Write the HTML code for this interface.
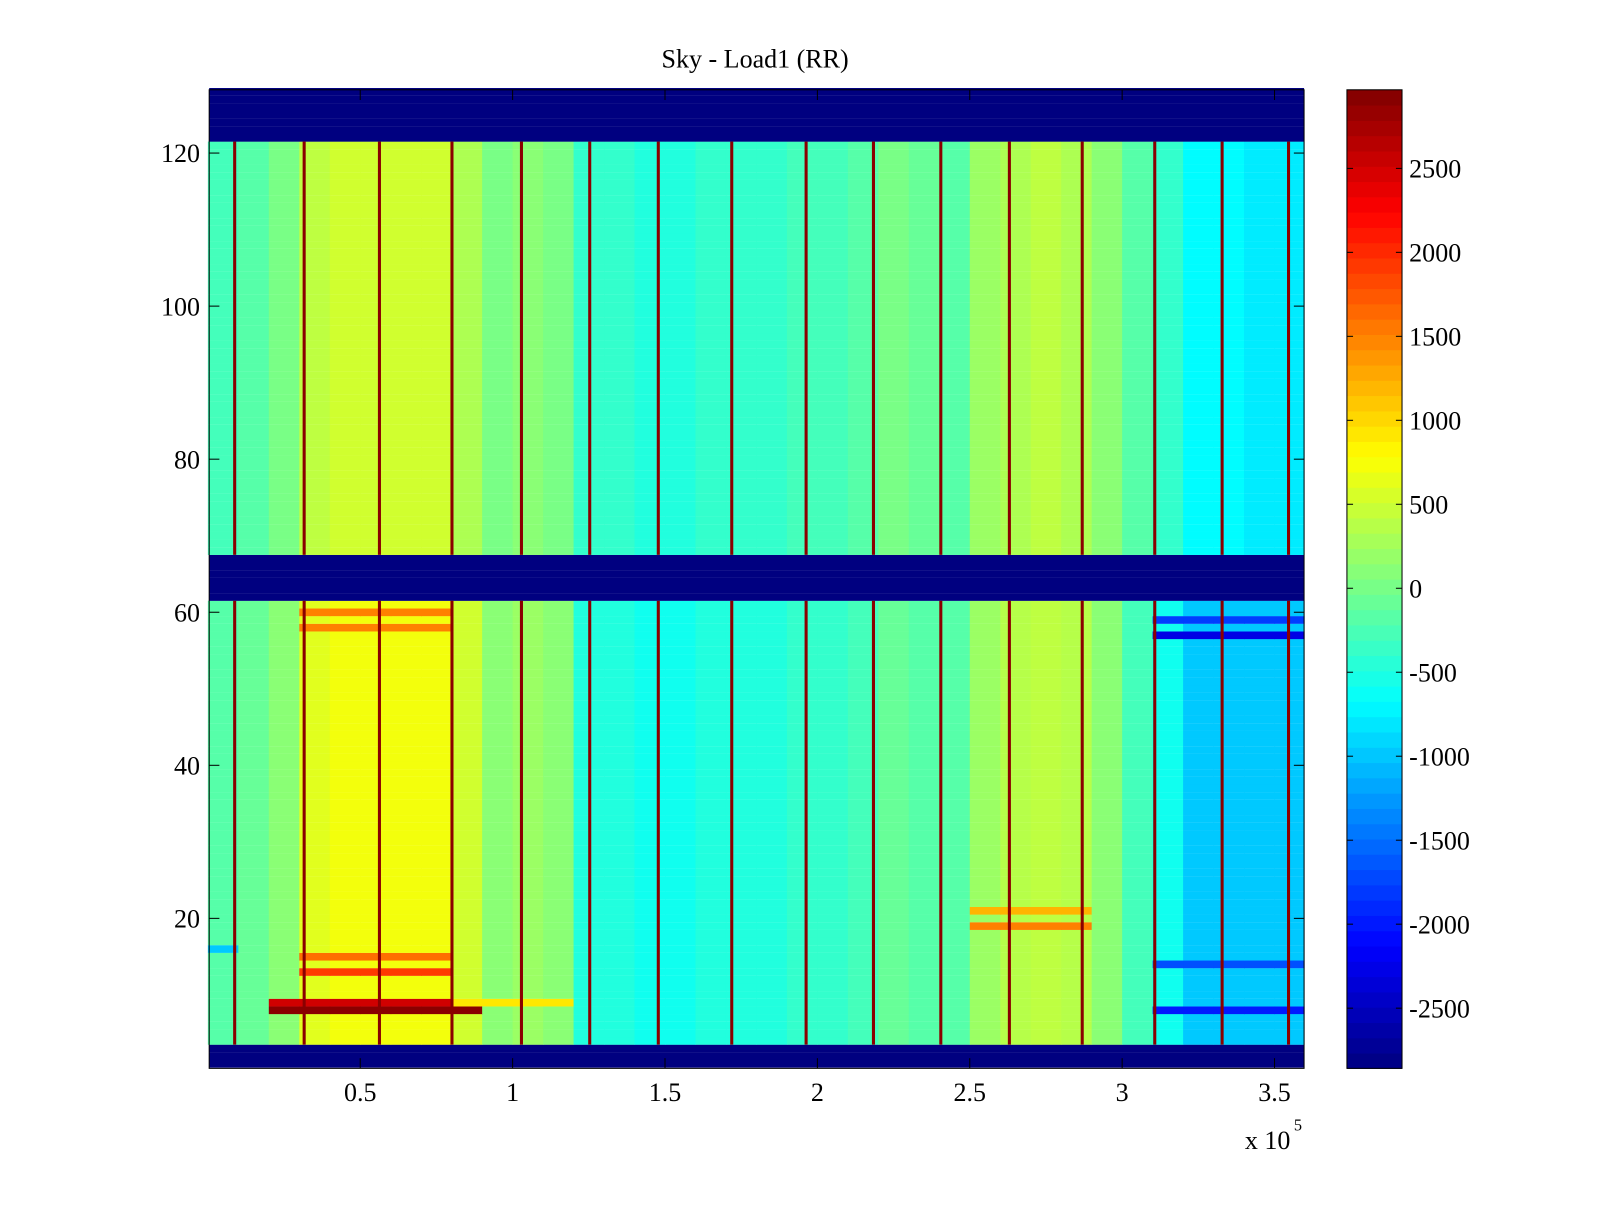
<!DOCTYPE html>
<html><head><meta charset="utf-8"><style>
body{margin:0;background:#fff}
svg text{font-family:"Liberation Serif",serif;font-size:25.5px;fill:#000}
</style></head><body>
<svg id="chart" width="1600" height="1200" xmlns="http://www.w3.org/2000/svg">
<rect width="1600" height="1200" fill="#fff"/>
<g transform="scale(1.0204)">
<text x="740" y="66" text-anchor="middle">Sky - Load1 (RR)</text>
<g id="cells"></g>
<g id="axes"></g>
<g id="cbar"></g>
</g>
</svg>
<script>
// column means per 1e4 bin (x from 0 to 3.6e5)
const colMeanUpper=[-300,-200,0,400,500,500,500,500,300,0,100,0,-400,-400,-500,-500,-400,-400,-400,-300,-300,-200,0,-100,-200,200,300,400,300,100,-200,-400,-700,-700,-800,-800];
const colMeanLower=[-200,-100,100,600,700,700,700,700,500,100,200,100,-500,-500,-600,-600,-500,-500,-500,-400,-400,-300,-100,-200,-200,200,350,400,350,100,-300,-600,-1000,-1000,-1000,-1000];
const maskRows=[[1,3],[62,67],[122,128]];
const stripeRows=[8,9,9,13,15,16,19,21,58,60,57,59,8,14];
const stripeX0=[0.25,0.2,0.85,0.3,0.3,0,2.55,2.55,0.3,0.3,3.15,3.15,3.1,3.15];
const stripeX1=[0.85,0.85,1.15,0.8,0.8,0.1,2.85,2.85,0.8,0.8,3.6,3.6,3.6,3.6];
const stripeVal=[2900,2500,900,1900,1600,-1000,1500,1200,1500,1500,-2300,-1800,-2000,-1700];
const lineX=[0.088,0.316,0.563,0.801,1.029,1.253,1.478,1.719,1.963,2.184,2.405,2.63,2.869,3.107,3.328,3.546];
const lineVal=2900;
const xTicks=[0.5,1,1.5,2,2.5,3,3.5];
const yTicks=[20,40,60,80,100,120];
const cTicks=[2500,2000,1500,1000,500,0,-500,-1000,-1500,-2000,-2500];
const cMin=-2880,cMax=2960;
const NS='http://www.w3.org/2000/svg';
const L=205,R=1278,T=88,B=1047;
const X=v=>203.7+v*298.67;
const Yc=r=>1050-r*7.5;
const CY=v=>576.5-v*0.1646;
function jet(v){let t=(v-cMin)/(cMax-cMin);t=Math.max(0,Math.min(1,t));
 const f=x=>Math.round(255*Math.max(0,Math.min(1,1.5-Math.abs(4*t-x))));
 return `rgb(${f(3)},${f(2)},${f(1)})`;}
function mk(tag,a,p){const e=document.createElementNS(NS,tag);for(const k in a)e.setAttribute(k,a[k]);p.appendChild(e);return e;}
const cells=document.getElementById('cells');
function masked(r){return maskRows.some(m=>r>=m[0]&&r<=m[1]);}
for(let r=1;r<=128;r++){
 const y0=Yc(r)-3.75;
 if(masked(r)){const e=mk('rect',{x:L,y:y0,width:R-L,height:7.6,fill:jet(cMin)},cells);
  continue;}
 const means=r<64?colMeanLower:colMeanUpper;
 for(let c=0;c<means.length;c++){
  let v=means[c];const xc=(c+0.5)/10;
  for(let s=0;s<stripeRows.length;s++){if(stripeRows[s]===r&&xc>=stripeX0[s]&&xc<=stripeX1[s])v=stripeVal[s];}
  const x0=X(c/10),x1=Math.min(R,X((c+1)/10));
  const e=mk('rect',{x:x0,y:y0,width:x1-x0+0.5,height:7.6,fill:jet(v)},cells);
  
 }
}
for(const lx of lineX){
 for(const seg of [[4,61],[68,121]]){
  const e=mk('rect',{x:X(lx)-1.5,y:Yc(seg[1])-3.75,width:3,height:(seg[1]-seg[0]+1)*7.5,fill:jet(lineVal)},cells);
  
 }
}
const ax=document.getElementById('axes');
mk('rect',{x:L,y:T,width:R-L,height:B-T,fill:'none',stroke:'#000','stroke-width':1},ax);
for(const t of xTicks){const x=X(t);
 mk('line',{x1:x,y1:B,x2:x,y2:B-10,stroke:'#000'},ax);mk('line',{x1:x,y1:T,x2:x,y2:T+10,stroke:'#000'},ax);
 const e=mk('text',{x:x,y:1079,'text-anchor':'middle'},ax);e.textContent=String(t);
 }
for(const t of yTicks){const y=Yc(t);
 mk('line',{x1:L,y1:y,x2:L+10,y2:y,stroke:'#000'},ax);mk('line',{x1:R,y1:y,x2:R-10,y2:y,stroke:'#000'},ax);
 const e=mk('text',{x:196,y:y+9,'text-anchor':'end'},ax);e.textContent=String(t);
 }
const xm=mk('text',{x:1220,y:1126},ax);xm.textContent='x 10';

const ex=mk('text',{x:1268,y:1108,style:'font-size:16px'},ax);ex.textContent='5';

const cb=document.getElementById('cbar');
const steps=64;
for(let i=0;i<steps;i++){const v0=cMin+(cMax-cMin)*i/steps,v1=cMin+(cMax-cMin)*(i+1)/steps;
 const y1=T+(B-T)*(1-i/steps),y0=T+(B-T)*(1-(i+1)/steps);
 const e=mk('rect',{x:1320,y:y0,width:54,height:y1-y0+0.5,fill:jet((v0+v1)/2)},cb);
 }
mk('rect',{x:1320,y:T,width:54,height:B-T,fill:'none',stroke:'#000'},cb);
for(const t of cTicks){const y=CY(t);
 mk('line',{x1:1320,y1:y,x2:1326,y2:y,stroke:'#000'},cb);mk('line',{x1:1374,y1:y,x2:1368,y2:y,stroke:'#000'},cb);
 const e=mk('text',{x:1381,y:y+9},cb);e.textContent=String(t);
 }
</script>
</body></html>
